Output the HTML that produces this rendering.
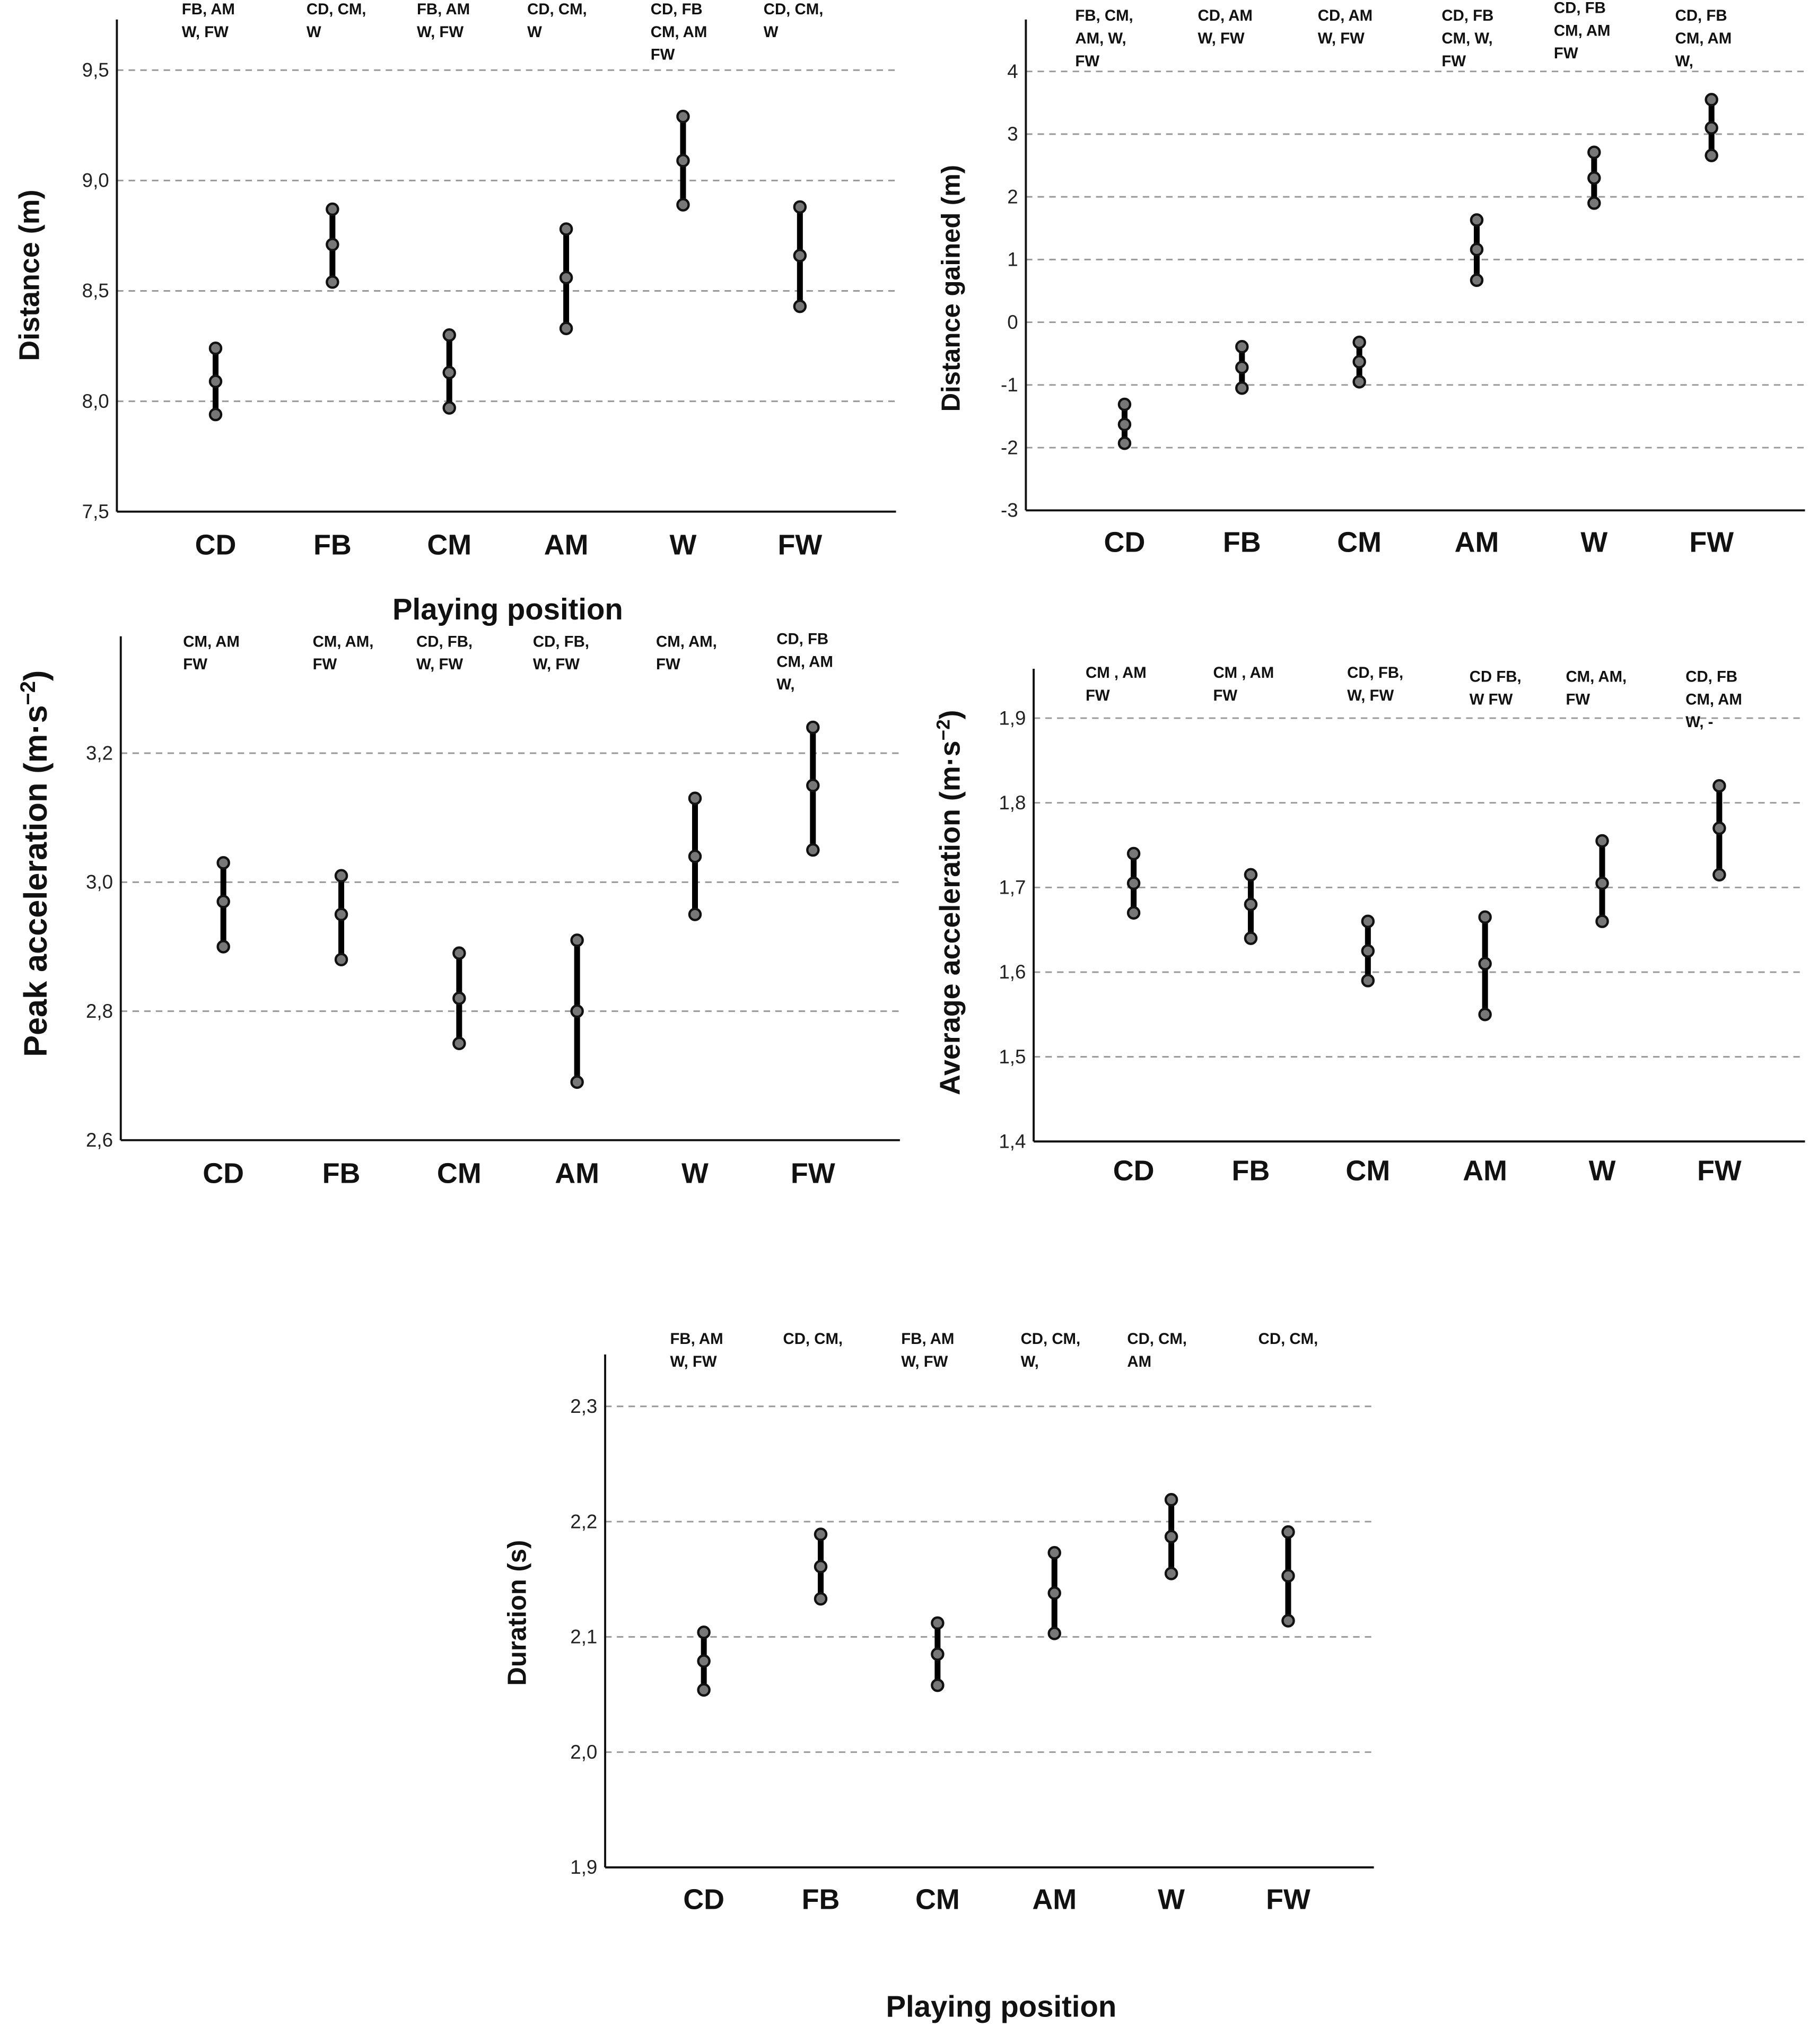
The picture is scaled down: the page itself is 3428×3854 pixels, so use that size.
<!DOCTYPE html>
<html><head><meta charset="utf-8"><style>
html,body{margin:0;padding:0;background:#fff}
svg{display:block}
.tick{font-family:"Liberation Sans",sans-serif;font-size:15px;fill:#222}
.cat{font-family:"Liberation Sans",sans-serif;font-size:22px;font-weight:bold;fill:#111}
.ann{font-family:"Liberation Sans",sans-serif;font-size:12px;font-weight:bold;fill:#111}
.ttl{font-family:"Liberation Sans",sans-serif;font-weight:bold;fill:#111}
</style></head><body>
<svg id="fig" width="3428" height="3854" viewBox="0 0 1400 1574" xmlns="http://www.w3.org/2000/svg"></svg>
<script>
const categories = ["CD","FB","CM","AM","W","FW"];
// Panel 1: Distance
const distLo   = [7.94, 8.54, 7.97, 8.33, 8.89, 8.43];
const distMean = [8.09, 8.71, 8.13, 8.56, 9.09, 8.66];
const distHi   = [8.24, 8.87, 8.30, 8.78, 9.29, 8.88];
const distTicks = [7.5, 8.0, 8.5, 9.0, 9.5];
const distTickLabels = ["7,5","8,0","8,5","9,0","9,5"];
const distAnn = [["FB, AM","W, FW"],["CD, CM,","W"],["FB, AM","W, FW"],["CD, CM,","W"],["CD, FB","CM, AM","FW"],["CD, CM,","W"]];
// Panel 2: Distance gained
const gainLo   = [-1.93, -1.05, -0.95, 0.67, 1.90, 2.66];
const gainMean = [-1.63, -0.72, -0.63, 1.16, 2.30, 3.10];
const gainHi   = [-1.31, -0.39, -0.32, 1.63, 2.71, 3.55];
const gainTicks = [-3,-2,-1,0,1,2,3,4];
const gainTickLabels = ["-3","-2","-1","0","1","2","3","4"];
const gainAnn = [["FB, CM,","AM, W,","FW"],["CD, AM","W, FW"],["CD, AM","W, FW"],["CD, FB","CM, W,","FW"],["CD, FB","CM, AM","FW"],["CD, FB","CM, AM","W,"]];
// Panel 3: Peak acceleration
const peakLo   = [2.90, 2.88, 2.75, 2.69, 2.95, 3.05];
const peakMean = [2.97, 2.95, 2.82, 2.80, 3.04, 3.15];
const peakHi   = [3.03, 3.01, 2.89, 2.91, 3.13, 3.24];
const peakTicks = [2.6, 2.8, 3.0, 3.2];
const peakTickLabels = ["2,6","2,8","3,0","3,2"];
const peakAnn = [["CM, AM","FW"],["CM, AM,","FW"],["CD, FB,","W, FW"],["CD, FB,","W, FW"],["CM, AM,","FW"],["CD, FB","CM, AM","W,"]];
// Panel 4: Average acceleration
const avgLo   = [1.67, 1.64, 1.59, 1.55, 1.66, 1.715];
const avgMean = [1.705, 1.68, 1.625, 1.61, 1.705, 1.77];
const avgHi   = [1.74, 1.715, 1.66, 1.665, 1.755, 1.82];
const avgTicks = [1.4, 1.5, 1.6, 1.7, 1.8, 1.9];
const avgTickLabels = ["1,4","1,5","1,6","1,7","1,8","1,9"];
const avgAnn = [["CM , AM","FW"],["CM , AM","FW"],["CD, FB,","W, FW"],["CD FB,","W FW"],["CM, AM,","FW"],["CD, FB","CM, AM","W, -"]];
// Panel 5: Duration
const durLo   = [2.054, 2.133, 2.058, 2.103, 2.155, 2.114];
const durMean = [2.079, 2.161, 2.085, 2.138, 2.187, 2.153];
const durHi   = [2.104, 2.189, 2.112, 2.173, 2.219, 2.191];
const durTicks = [1.9, 2.0, 2.1, 2.2, 2.3];
const durTickLabels = ["1,9","2,0","2,1","2,2","2,3"];
const durAnn = [["FB, AM","W, FW"],["CD, CM,"],["FB, AM","W, FW"],["CD, CM,","W,"],["CD, CM,","AM"],["CD, CM,"]];

const NS = "http://www.w3.org/2000/svg";
const svg = document.getElementById("fig");
function mk(tag, attrs, parent, text){
  const e = document.createElementNS(NS, tag);
  for (const k in attrs) e.setAttribute(k, attrs[k]);
  if (text !== undefined) e.textContent = text;
  (parent||svg).appendChild(e);
  return e;
}

function panel(o){
  const g = mk("g", {});
  
  
  const y = v => o.y0 + (v - o.vmin) / (o.vmax - o.vmin) * (o.y1 - o.y0);
  const x = i => o.cx0 + i * o.step;
  o.ticks.forEach((t, i) => {
    if (t !== o.vmin) {
      const gl = mk("line", {x1:o.ax, x2:o.right, y1:y(t), y2:y(t), stroke:"#999", "stroke-width":1.2, "stroke-dasharray":"5,4"}, g);
      
      
    }
    const tl = mk("text", {x:o.ax-6, y:y(t)+5, "text-anchor":"end", class:"tick"}, g, o.tickLabels[i]);
    
    
  });
  const ya = mk("line", {x1:o.ax, x2:o.ax, y1:o.top, y2:o.y0, stroke:"#111", "stroke-width":1.6}, g);
  
  
  const xa = mk("line", {x1:o.ax, x2:o.right, y1:o.y0, y2:o.y0, stroke:"#111", "stroke-width":1.6}, g);
  
  
  const tt = mk("text", {x:0, y:0, transform:`translate(${o.tx},${o.ty}) rotate(-90)`, "text-anchor":"middle", class:"ttl", "font-size":o.tfs}, g);
  
  
  if (o.sup) {
    tt.appendChild(document.createTextNode(o.title));
    mk("tspan", {"baseline-shift":"super", "font-size":o.tfs*0.65}, tt, "−2");
    mk("tspan", {}, tt, ")");
  } else tt.textContent = o.title;
  categories.forEach((c, i) => {
    const cl = mk("text", {x:x(i), y:o.catY, "text-anchor":"middle", class:"cat"}, g, c);
    
    
    const bar = mk("line", {x1:x(i), x2:x(i), y1:y(o.lo[i]), y2:y(o.hi[i]), stroke:"#000", "stroke-width":4.5}, g);
    
    
    [o.lo[i], o.mean[i], o.hi[i]].forEach((v, k) => {
      const p = mk("circle", {cx:x(i), cy:y(v), r:4.3, fill:"#777", stroke:"#111", "stroke-width":1.8}, g);
      
      
    });
    const ay = o.annY ? o.annY[i] : o.annY0;
    o.ann[i].forEach((line, k) => {
      const a = mk("text", {x:x(i) + o.annDx[i], y:ay + k*17.5, class:"ann"}, g, line);
      
      
    });
  });
}

panel({name:"distance-chart", ax:90, right:690, top:15, y0:394, y1:54, vmin:7.5, vmax:9.5,
  cx0:166, step:90, catY:427, ticks:distTicks, tickLabels:distTickLabels,
  lo:distLo, mean:distMean, hi:distHi, ann:distAnn, annDx:[-26,-20,-25,-30,-25,-28], annY0:11,
  title:"Distance (m)", tx:30, ty:212, tfs:22});
panel({name:"distance-gained-chart", ax:790, right:1390, top:15, y0:393, y1:55, vmin:-3, vmax:4,
  cx0:866, step:90.4, catY:425, ticks:gainTicks, tickLabels:gainTickLabels,
  lo:gainLo, mean:gainMean, hi:gainHi, ann:gainAnn, annDx:[-38,-34,-32,-27,-31,-28], annY:[16,16,16,16,10,16],
  title:"Distance gained (m)", tx:739, ty:222, tfs:20});
panel({name:"peak-acceleration-chart", ax:93, right:693, top:490, y0:878, y1:580, vmin:2.6, vmax:3.2,
  cx0:172, step:90.8, catY:911, ticks:peakTicks, tickLabels:peakTickLabels,
  lo:peakLo, mean:peakMean, hi:peakHi, ann:peakAnn, annDx:[-31,-22,-33,-34,-30,-28], annY:[498,498,498,498,498,496],
  title:"Peak acceleration (m·s", sup:true, tx:36, ty:665, tfs:25});
panel({name:"average-acceleration-chart", ax:796, right:1390, top:515, y0:879, y1:553, vmin:1.4, vmax:1.9,
  cx0:873, step:90.2, catY:909, ticks:avgTicks, tickLabels:avgTickLabels,
  lo:avgLo, mean:avgMean, hi:avgHi, ann:avgAnn, annDx:[-37,-29,-16,-12,-28,-26], annY:[522,522,522,525,525,525],
  title:"Average acceleration (m·s", sup:true, tx:739, ty:695, tfs:22});
panel({name:"duration-chart", ax:466, right:1058, top:1043, y0:1438, y1:1083, vmin:1.9, vmax:2.3,
  cx0:542, step:90, catY:1470, ticks:durTicks, tickLabels:durTickLabels,
  lo:durLo, mean:durMean, hi:durHi, ann:durAnn, annDx:[-26,-29,-28,-26,-34,-23], annY0:1035,
  title:"Duration (s)", tx:405, ty:1242, tfs:20});

const x1 = mk("text", {x:391, y:477, "text-anchor":"middle", class:"ttl", "font-size":23}, svg, "Playing position");


const x2 = mk("text", {x:771, y:1553, "text-anchor":"middle", class:"ttl", "font-size":23}, svg, "Playing position");


</script>
</body></html>
